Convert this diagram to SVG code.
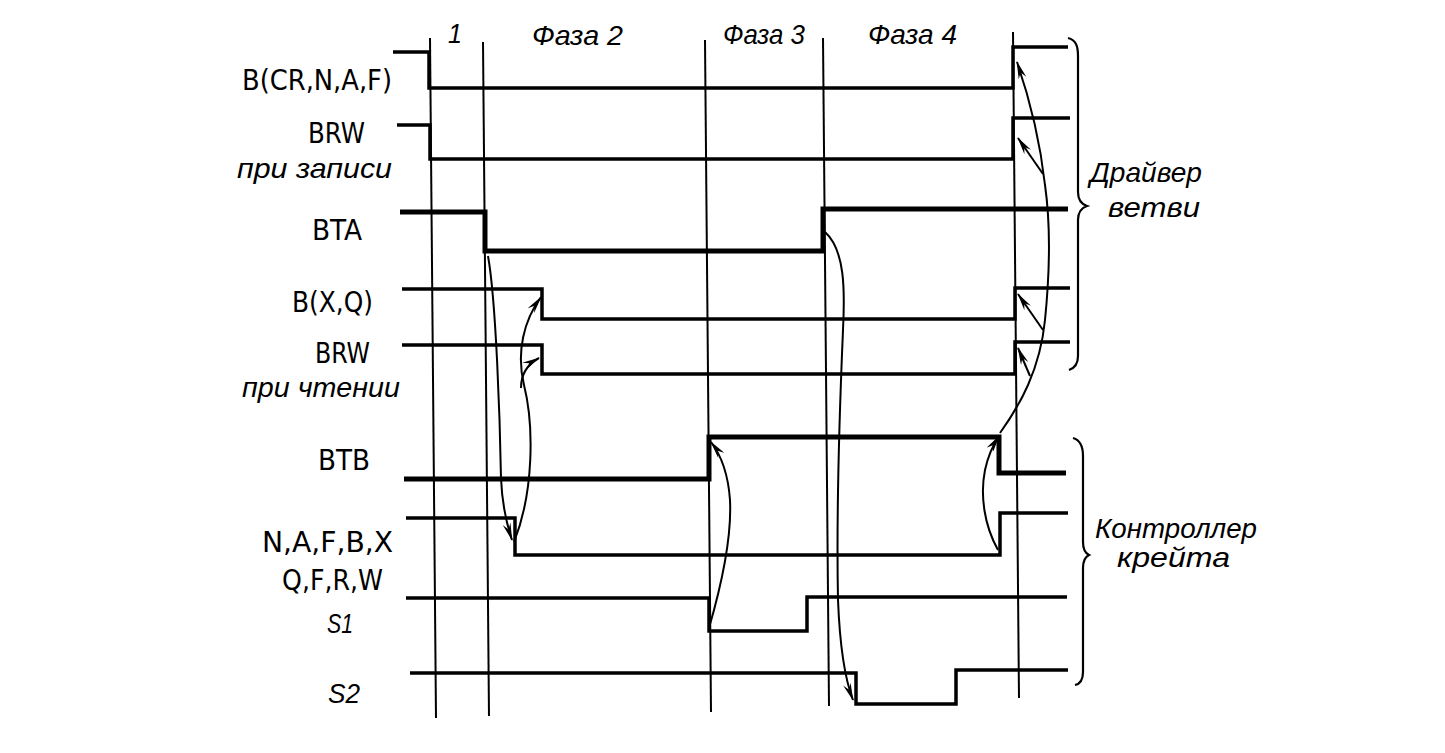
<svg xmlns="http://www.w3.org/2000/svg" width="1445" height="753" viewBox="0 0 1445 753">
<defs>
<style>
.bg{fill:#ffffff}
.grid{stroke:#000;stroke-width:2;fill:none}
.sig{stroke:#000;stroke-width:3.5;fill:none;stroke-linejoin:miter}
.thick{stroke-width:5}
.arr{stroke:#000;stroke-width:2;fill:none}
.brace{stroke:#000;stroke-width:2.2;fill:none}
.lbl{font-family:"DejaVu Sans Condensed","Liberation Sans",sans-serif;font-size:29px;fill:#000}
.it{font-family:"Liberation Sans","DejaVu Sans",sans-serif;font-style:italic;font-size:28px}
</style>
<marker id="ah" viewBox="0 0 18 8" refX="17" refY="4" markerWidth="18" markerHeight="8" markerUnits="userSpaceOnUse" orient="auto">
<path d="M0,0 L18,4 L0,8 L6,4 z" fill="#000"/>
</marker>
</defs>
<rect class="bg" x="0" y="0" width="1445" height="753"/>

<g id="grid">
<line class="grid" x1="430" y1="38" x2="436" y2="718"/>
<line class="grid" x1="483" y1="42" x2="489" y2="716"/>
<line class="grid" x1="705" y1="40" x2="711" y2="712"/>
<line class="grid" x1="823" y1="38" x2="829" y2="706"/>
<line class="grid" x1="1013" y1="32" x2="1019" y2="698"/>
</g>

<g id="phases">
<text class="lbl it" x="448" y="43" textLength="14" lengthAdjust="spacingAndGlyphs">1</text>
<text class="lbl it" x="532" y="45" textLength="91" lengthAdjust="spacingAndGlyphs">Фаза 2</text>
<text class="lbl it" x="723" y="44" textLength="82" lengthAdjust="spacingAndGlyphs">Фаза 3</text>
<text class="lbl it" x="868" y="44" textLength="89" lengthAdjust="spacingAndGlyphs">Фаза 4</text>
</g>

<g id="sig-bcrnaf">
<polyline class="sig" points="393,52 429,52 429,88 1013,88 1013,47 1068,47"/>
<text class="lbl" x="242" y="90" textLength="150" lengthAdjust="spacingAndGlyphs">B(CR,N,A,F)</text>
</g>
<g id="sig-brw-write">
<polyline class="sig" points="397,125 430,125 430,159 1013,159 1013,118 1070,118"/>
<text class="lbl" x="308" y="143" textLength="57" lengthAdjust="spacingAndGlyphs">BRW</text>
<text class="lbl it" x="237" y="178" textLength="155" lengthAdjust="spacingAndGlyphs">при записи</text>
</g>
<g id="sig-bta">
<polyline class="sig thick" points="400,212 485,212 485,251 823,251 823,209 1068,209"/>
<text class="lbl" x="312" y="240" textLength="50" lengthAdjust="spacingAndGlyphs">BTA</text>
</g>
<g id="sig-bxq">
<polyline class="sig" points="402,289 542,289 542,319 1015,319 1015,288 1070,288"/>
<text class="lbl" x="292" y="312" textLength="81" lengthAdjust="spacingAndGlyphs">B(X,Q)</text>
</g>
<g id="sig-brw-read">
<polyline class="sig" points="402,345 542,345 542,374 1015,374 1015,342 1070,342"/>
<text class="lbl" x="315" y="363" textLength="55" lengthAdjust="spacingAndGlyphs">BRW</text>
<text class="lbl it" x="242" y="397" textLength="158" lengthAdjust="spacingAndGlyphs">при чтении</text>
</g>
<g id="sig-btb">
<polyline class="sig thick" points="404,479 709,479 709,437 999,437 999,473 1066,473"/>
<text class="lbl" x="318" y="470" textLength="52" lengthAdjust="spacingAndGlyphs">BTB</text>
</g>
<g id="sig-nafbx">
<polyline class="sig" points="406,518 515,518 515,555 1000,555 1000,513 1068,513"/>
<text class="lbl" x="262" y="552" textLength="131" lengthAdjust="spacingAndGlyphs">N,A,F,B,X</text>
<text class="lbl" x="282" y="590" textLength="101" lengthAdjust="spacingAndGlyphs">Q,F,R,W</text>
</g>
<g id="sig-s1">
<polyline class="sig" points="406,598 709,598 709,631 807,631 807,597 1067,597"/>
<text class="lbl it" x="327" y="633" textLength="26" lengthAdjust="spacingAndGlyphs">S1</text>
</g>
<g id="sig-s2">
<polyline class="sig" points="410,673 856,673 856,704 956,704 956,670 1068,670"/>
<text class="lbl it" x="328" y="703" textLength="32" lengthAdjust="spacingAndGlyphs">S2</text>
</g>

<g id="group-driver">
<path class="brace" d="M1068,38 C1076,40 1078,46 1078,56 L1078,192 C1078,200 1081,204 1087,206 C1081,208 1078,212 1078,220 L1078,356 C1078,364 1075,368 1069,370"/>
<text class="lbl it" x="1090" y="182" textLength="112" lengthAdjust="spacingAndGlyphs">Драйвер</text>
<text class="lbl it" x="1108" y="217" textLength="92" lengthAdjust="spacingAndGlyphs">ветви</text>
</g>
<g id="group-controller">
<path class="brace" d="M1073,438 C1080,440 1083,446 1083,456 L1083,542 C1083,550 1085,553 1089,555 C1085,557 1083,560 1083,568 L1083,672 C1083,680 1080,684 1075,685"/>
<text class="lbl it" x="1095" y="538" textLength="162" lengthAdjust="spacingAndGlyphs">Контроллер</text>
<text class="lbl it" x="1117" y="567" textLength="113" lengthAdjust="spacingAndGlyphs">крейта</text>
</g>

<g id="connectors">
<path class="arr" marker-end="url(#ah)" d="M488,256 C496,300 500,420 501,478 C502,505 506,522 512,540"/>
<path class="arr" marker-end="url(#ah)" d="M514,542 C534,492 534,425 524,385 C516,352 524,320 541,297"/>
<path class="arr" marker-end="url(#ah)" d="M521,388 C521,374 528,364 539,358"/>
<path class="arr" marker-end="url(#ah)" d="M825,232 C845,250 845,290 843,330 C840,400 836,500 838,600 C840,650 846,682 853,700"/>
<path class="arr" marker-end="url(#ah)" d="M709,628 C720,590 732,540 730,500 C728,472 721,455 711,442"/>
<path class="arr" marker-end="url(#ah)" d="M998,550 C984,525 980,495 985,470 C988,456 993,445 999,436"/>
<path class="arr" marker-end="url(#ah)" d="M1000,433 C1020,405 1040,370 1045,320 C1050,270 1050,220 1045,185 C1040,140 1030,100 1017,62"/>
<path class="arr" marker-end="url(#ah)" d="M1043,174 L1018,138"/>
<path class="arr" marker-end="url(#ah)" d="M1043,330 L1018,294"/>
<path class="arr" marker-end="url(#ah)" d="M1030,376 L1018,348"/>
</g>
</svg>
